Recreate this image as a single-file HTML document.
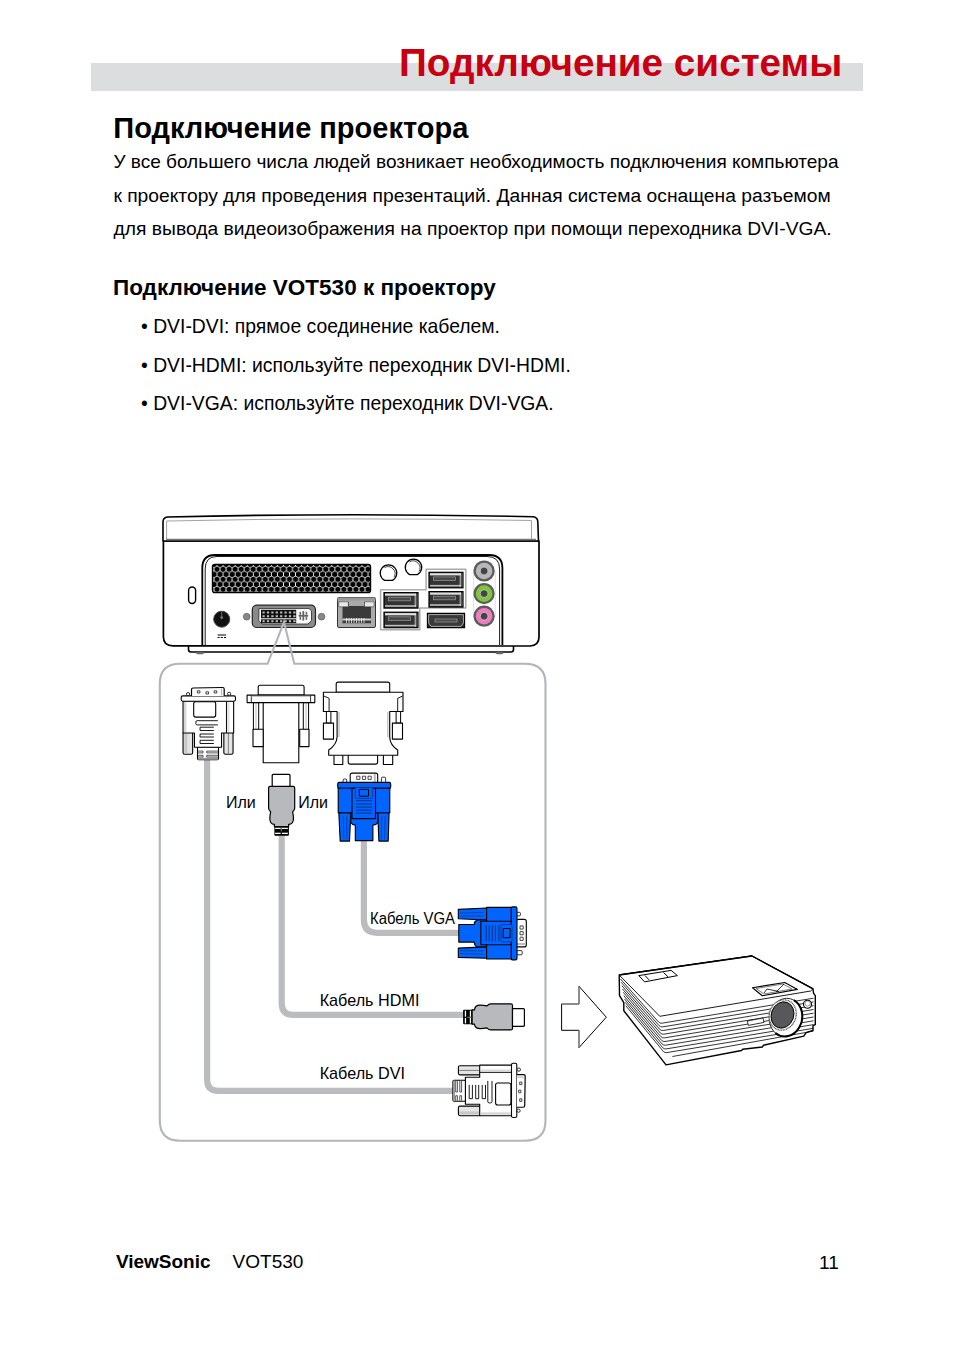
<!DOCTYPE html>
<html><head><meta charset="utf-8">
<style>
html,body{margin:0;padding:0;background:#fff;width:954px;height:1350px;overflow:hidden}
svg{display:block}
text{font-family:"Liberation Sans",sans-serif}
</style></head><body>
<svg width="954" height="1350" viewBox="0 0 954 1350">
<defs>
<pattern id="hex" patternUnits="userSpaceOnUse" x="214" y="566.8" width="6.04" height="10.06">
<rect width="6.04" height="10.06" fill="#fff"/>
<polygon points="3.02,-0.50 5.62,1.00 5.62,4.00 3.02,5.50 0.42,4.00 0.42,1.00" fill="#000"/>
<polygon points="0.00,4.53 2.60,6.03 2.60,9.03 0.00,10.53 -2.60,9.03 -2.60,6.03" fill="#000"/>
<polygon points="6.04,4.53 8.64,6.03 8.64,9.03 6.04,10.53 3.44,9.03 3.44,6.03" fill="#000"/>
<polygon points="0.00,-5.53 2.60,-4.03 2.60,-1.03 0.00,0.47 -2.60,-1.03 -2.60,-4.03" fill="#000"/>
<polygon points="6.04,-5.53 8.64,-4.03 8.64,-1.03 6.04,0.47 3.44,-1.03 3.44,-4.03" fill="#000"/>
<polygon points="3.02,9.56 5.62,11.06 5.62,14.06 3.02,15.56 0.42,14.06 0.42,11.06" fill="#000"/>
</pattern>
</defs>
<!-- header bar -->
<rect x="91" y="63" width="772" height="28" fill="#dcdddf"/>
<text x="399" y="75.6" font-size="38.7" font-weight="bold" fill="#c8000f">Подключение системы</text>
<text x="113.3" y="138" font-size="29" font-weight="bold" fill="#000">Подключение проектора</text>
<text x="113.4" y="167.6" font-size="19.05" fill="#000">У все большего числа людей возникает необходимость подключения компьютера</text>
<text x="113.4" y="201.6" font-size="19.25" fill="#000">к проектору для проведения презентаций. Данная система оснащена разъемом</text>
<text x="113.6" y="234.8" font-size="19.25" fill="#000">для вывода видеоизображения на проектор при помощи переходника DVI-VGA.</text>
<text x="113" y="295" font-size="22.5" font-weight="bold" fill="#000">Подключение VOT530 к проектору</text>
<text x="141" y="332.9" font-size="19.35" fill="#000">• DVI-DVI: прямое соединение кабелем.</text>
<text x="141" y="371.9" font-size="19.35" fill="#000">• DVI-HDMI: используйте переходник DVI-HDMI.</text>
<text x="141" y="410.2" font-size="19.35" fill="#000">• DVI-VGA: используйте переходник DVI-VGA.</text>

<!-- footer -->
<text x="115.9" y="1268" font-size="19" font-weight="bold" fill="#000">ViewSonic</text>
<text x="232.6" y="1268" font-size="19" fill="#000">VOT530</text>
<text x="819" y="1268.5" font-size="19" fill="#000">11</text>

<!-- DIAGRAM -->
<g id="diagram">
<!-- ===== MINI PC ===== -->
<g id="pc" stroke-linejoin="round">
<!-- base plate -->
<path d="M188.5,645 L188.5,649.5 Q188.5,652 191,652 L511,652 Q513.5,652 513.5,649.5 L513.5,645" fill="#fff" stroke="#000" stroke-width="1.6"/>
<ellipse cx="200" cy="653" rx="4" ry="1.3" fill="#666"/>
<ellipse cx="499.5" cy="653" rx="4" ry="1.3" fill="#666"/>
<!-- body -->
<path d="M163.4,541 L163.4,637 Q163.4,645.8 173,645.8 L530,646 Q539,645.5 539,637 L539,541 Z" fill="#fff" stroke="#000" stroke-width="1.7"/>
<!-- lid -->
<path d="M163,541 L163,522 Q163,517.5 167.6,517 Q350,512.5 533.5,516.8 Q537.8,517.5 537.8,522 L538.5,541 Z" fill="#fff" stroke="#000" stroke-width="1.6"/>
<path d="M166.6,539.5 L166.6,521 Q350,517 531.5,520.5 L531.5,539.5" fill="none" stroke="#999" stroke-width="0.9"/>
<line x1="166" y1="539.3" x2="536" y2="539.3" stroke="#777" stroke-width="1.2"/>
<!-- inner panel (double line) -->
<path d="M202.3,645 L202.3,568 Q202.3,555 215,555 L489,555 Q502.4,555 502.4,568 L502.4,645" fill="none" stroke="#000" stroke-width="1.8"/>
<path d="M205.2,645 L205.2,569 Q205.2,556.5 217,556.5 L487,556.5 Q499.6,556.5 499.6,569 L499.6,645" fill="none" stroke="#000" stroke-width="0.9"/>
<!-- oval button -->
<rect x="188.6" y="587" width="7" height="16.5" rx="3.5" fill="#fff" stroke="#000" stroke-width="1.4"/>
<!-- vent -->
<rect x="212.4" y="564.3" width="158.2" height="28.4" rx="2.5" fill="url(#hex)" stroke="#000" stroke-width="1.2"/>
<!-- power jack -->
<circle cx="221.7" cy="619.2" r="8" fill="#111" stroke="#444" stroke-width="1"/>
<circle cx="221.7" cy="617.5" r="1.3" fill="#888"/>
<line x1="221.7" y1="611.5" x2="221.7" y2="617" stroke="#666" stroke-width="1"/>
<line x1="217.6" y1="635" x2="226.1" y2="635" stroke="#000" stroke-width="1"/>
<line x1="217.6" y1="637.5" x2="226.1" y2="637.5" stroke="#000" stroke-width="1" stroke-dasharray="2 1.2"/>
<!-- DVI port -->
<circle cx="246.7" cy="616.7" r="3.4" fill="#888" stroke="#555" stroke-width="0.6"/>
<circle cx="321.5" cy="616.7" r="3.4" fill="#888" stroke="#555" stroke-width="0.6"/>
<rect x="252.3" y="605.2" width="63.2" height="22.3" rx="4.5" fill="#8a8a8a" stroke="#222" stroke-width="1.2"/>
<path d="M259,608.6 L309,608.6 L311.5,611 L311.5,620.5 L308,624 L262,624 L258.8,620.5 Z" fill="#fff" stroke="#222" stroke-width="0.8"/>
<rect x="261" y="609.8" width="35.2" height="13.4" fill="#111"/>
<rect x="261" y="618.3" width="35.2" height="1" fill="#fff"/>
<g fill="#bbb">
<rect x="262.5" y="611.5" width="2.2" height="2"/><rect x="266.9" y="611.5" width="2.2" height="2"/><rect x="271.3" y="611.5" width="2.2" height="2"/><rect x="275.7" y="611.5" width="2.2" height="2"/><rect x="280.1" y="611.5" width="2.2" height="2"/><rect x="284.5" y="611.5" width="2.2" height="2"/><rect x="288.9" y="611.5" width="2.2" height="2"/><rect x="293.3" y="611.5" width="2.2" height="2"/>
<rect x="262.5" y="615.2" width="2.2" height="2"/><rect x="266.9" y="615.2" width="2.2" height="2"/><rect x="271.3" y="615.2" width="2.2" height="2"/><rect x="275.7" y="615.2" width="2.2" height="2"/><rect x="280.1" y="615.2" width="2.2" height="2"/><rect x="284.5" y="615.2" width="2.2" height="2"/><rect x="288.9" y="615.2" width="2.2" height="2"/><rect x="293.3" y="615.2" width="2.2" height="2"/>
<rect x="262.5" y="620.2" width="2.2" height="2"/><rect x="266.9" y="620.2" width="2.2" height="2"/><rect x="271.3" y="620.2" width="2.2" height="2"/><rect x="275.7" y="620.2" width="2.2" height="2"/><rect x="280.1" y="620.2" width="2.2" height="2"/><rect x="284.5" y="620.2" width="2.2" height="2"/><rect x="288.9" y="620.2" width="2.2" height="2"/><rect x="293.3" y="620.2" width="2.2" height="2"/>
</g>
<g fill="#666">
<rect x="298.6" y="614.9" width="9.6" height="1.8"/>
<rect x="302.4" y="611" width="1.8" height="9.6"/>
<rect x="299.5" y="611.8" width="1.6" height="3"/><rect x="305.6" y="611.8" width="1.6" height="3"/>
<rect x="299.5" y="616.8" width="1.6" height="3"/><rect x="305.6" y="616.8" width="1.6" height="3"/>
</g>
<!-- RJ45 -->
<rect x="337.5" y="597.5" width="38" height="30" rx="1.5" fill="#aaa" stroke="#333" stroke-width="1"/>
<rect x="337.5" y="597.5" width="38" height="3" fill="#999"/>
<path d="M342.5,602 L349,602 L349,606 L364,606 L364,602 L371,602 L371,624.5 L342.5,624.5 Z" fill="#3a3a3a"/>
<rect x="338.8" y="601.8" width="9.5" height="5" fill="#e8e8e8" stroke="#333" stroke-width="0.5"/>
<rect x="364.5" y="601.8" width="9.5" height="5" fill="#e8e8e8" stroke="#333" stroke-width="0.5"/>
<rect x="342.5" y="618.5" width="28.5" height="2" fill="#ccc"/>
<g stroke="#fff" stroke-width="0.7">
<line x1="346.5" y1="618" x2="346.5" y2="623"/><line x1="349" y1="618" x2="349" y2="623"/><line x1="351.5" y1="618" x2="351.5" y2="623"/><line x1="354" y1="618" x2="354" y2="623"/><line x1="356.5" y1="618" x2="356.5" y2="623"/><line x1="359" y1="618" x2="359" y2="623"/><line x1="361.5" y1="618" x2="361.5" y2="623"/><line x1="364" y1="618" x2="364" y2="623"/>
</g>
<rect x="342.5" y="623.5" width="28.5" height="1" fill="#ddd"/>
<!-- round buttons -->
<path d="M384.55,580.40 A8.3,8.3 0 1 1 392.45,580.40 Z" fill="#fff" stroke="#000" stroke-width="1.2"/>
<path d="M384.50,567.64 A7.000000000000001,7.000000000000001 0 0 1 394.06,577.20" fill="none" stroke="#000" stroke-width="0.7"/>
<path d="M409.66,574.60 A8.25,8.25 0 1 1 417.34,574.60 Z" fill="#fff" stroke="#000" stroke-width="1.2"/>
<path d="M409.52,561.88 A6.95,6.95 0 0 1 419.02,571.38" fill="none" stroke="#000" stroke-width="0.7"/>
<!-- USB outline group -->
<path d="M380.6,589.8 L426.1,589.8 L426.1,569.2 L465.8,569.2 L465.8,608.1 L419.8,608.1 L419.8,629.8 L380.6,629.8 Z" fill="none" stroke="#aaa" stroke-width="1.5"/>
</g>
<defs>
<g id="usb">
<rect x="0" y="0" width="34" height="15.5" fill="#333" stroke="#000" stroke-width="1.2"/>
<rect x="1" y="0.9" width="31" height="2.2" fill="#e0e0e0"/>
<rect x="4.5" y="4.6" width="22" height="3.6" fill="#4a4a4a" stroke="#9a9a9a" stroke-width="0.7"/>
<rect x="1" y="12.6" width="31" height="1.6" fill="#bbb"/>
<line x1="31.2" y1="1" x2="31.2" y2="14.5" stroke="#ddd" stroke-width="0.9"/>
<line x1="33" y1="1" x2="33" y2="14.5" stroke="#999" stroke-width="0.6"/>
</g>
</defs>
<use href="#usb" x="429" y="572.3"/>
<use href="#usb" x="429" y="591.6"/>
<use href="#usb" x="384" y="592.6"/>
<use href="#usb" x="384" y="612.2"/>
<!-- displayport -->
<path d="M427.5,613.5 L464.5,613.5 L464.5,627.5 L427.5,627.5 Z" fill="#333" stroke="#000" stroke-width="1.3"/>
<path d="M428.6,614.6 L463.4,614.6 L463.4,623 L461,626.4 L431,626.4 L428.6,623 Z" fill="#3a3a3a" stroke="#ddd" stroke-width="0.7"/>
<rect x="435" y="619" width="22" height="3" fill="#4a4a4a" stroke="#aaa" stroke-width="0.6"/>
<!-- audio jacks -->
<rect x="473.4" y="571" width="21.8" height="45.2" fill="none" stroke="#ddd" stroke-width="0.9"/>
<circle cx="484.1" cy="571" r="10.6" fill="#5c5c5c"/><circle cx="484.1" cy="571" r="8.3" fill="#b8b8bc"/>
<circle cx="484.1" cy="571" r="3.9" fill="#444" stroke="#eee" stroke-width="0.6"/>
<circle cx="484.1" cy="593.6" r="10.6" fill="#5c5c5c"/><circle cx="484.1" cy="593.6" r="8.3" fill="#7ec63c"/>
<circle cx="484.1" cy="593.6" r="3.9" fill="#444" stroke="#eee" stroke-width="0.6"/>
<circle cx="484.1" cy="616.2" r="10.6" fill="#5c5c5c"/><circle cx="484.1" cy="616.2" r="8.3" fill="#f07cc0"/>
<circle cx="484.1" cy="616.2" r="3.9" fill="#444" stroke="#eee" stroke-width="0.6"/>

<!--PANEL-->
<!-- ===== PANEL ===== -->
<path d="M267.6,663.8 L180,663.8 Q159.8,663.8 159.8,683.8 L159.8,1120.5 Q159.8,1140.7 180,1140.7 L525,1140.7 Q545.5,1140.7 545.5,1120.5 L545.5,683.8 Q545.5,663.8 525,663.8 L294.3,663.8 L284,622 Z" fill="none" stroke="#b4b5b8" stroke-width="2.1" stroke-linejoin="miter"/>
<!-- cables -->
<g fill="none" stroke="#bbbcbf" stroke-width="6.2">
<path d="M207.1,755 L207.1,1079.8 Q207.1,1090.8 218.1,1090.8 L455,1090.8"/>
<path d="M281.7,830 L281.7,1003.2 Q281.7,1014.9 293.4,1014.9 L465,1014.9"/>
<path d="M363.9,835 L363.9,919.8 Q363.9,932.8 376.9,932.8 L462,932.8"/>
</g>
<!-- labels -->
<text x="226" y="808" font-size="16" fill="#000">Или</text>
<text x="298.2" y="808" font-size="16" fill="#000">Или</text>
<text x="370" y="924.2" font-size="16" fill="#000" textLength="85" lengthAdjust="spacingAndGlyphs">Кабель VGA</text>
<text x="319.7" y="1005.8" font-size="16.2" fill="#000">Кабель HDMI</text>
<text x="319.7" y="1078.7" font-size="16.2" fill="#000">Кабель DVI</text>

<!--CONN-->
<defs>
<!-- DVI plug, local origin = center of tip top, +y towards cable -->
<g id="dviplug" stroke-linejoin="round">
<rect x="-10.85" y="59.5" width="21" height="12.8" rx="1.2" fill="#fff" stroke="#000" stroke-width="1.1"/>
<rect x="-10.3" y="70.2" width="20" height="2" fill="#999"/>
<g fill="none" stroke="#222" stroke-width="0.75">
<path d="M-10.3,63.6 L-5.3,63.6 L-5.3,65.4 L-10.3,65.4"/>
<path d="M9.7,63.6 L-1.6,63.6 L-1.6,65.4 L9.7,65.4"/>
<path d="M-10.3,67.8 L-5.3,67.8 L-5.3,69.5 L-10.3,69.5"/>
<path d="M9.7,67.8 L-1.6,67.8 L-1.6,69.5 L9.7,69.5"/>
</g>
<rect x="-25.3" y="44.5" width="9.6" height="22.3" rx="1.6" fill="#e4e4e4" stroke="#000" stroke-width="1.1"/>
<rect x="-24" y="45.5" width="3" height="20.5" fill="#c8c8c8"/>
<rect x="15.5" y="44.5" width="9.2" height="22.3" rx="1.6" fill="#e4e4e4" stroke="#000" stroke-width="1.1"/>
<line x1="20" y1="45.5" x2="20" y2="66" stroke="#666" stroke-width="0.8"/>
<path d="M-25.3,13.5 L25.3,13.5 L25.3,45.5 L13.2,45.5 L13.2,59.8 L-13.9,59.8 L-13.9,45.5 L-25.3,45.5 Z" fill="#fff" stroke="#000" stroke-width="1.1"/>
<rect x="-24.3" y="14.5" width="2.3" height="30" fill="#d6d6d6"/>
<line x1="18.1" y1="14" x2="18.1" y2="45.5" stroke="#000" stroke-width="1"/>
<rect x="19" y="14.5" width="2" height="30" fill="#ddd"/>
<rect x="-27.15" y="8.4" width="54.3" height="5.3" rx="1.6" fill="#fff" stroke="#000" stroke-width="1.1"/>
<path d="M-16.85,8.4 L-16.85,2 Q-16.85,0.6 -15.3,0.5 L14.3,0 Q15.85,0 15.85,1.5 L15.85,8.4" fill="#fff" stroke="#000" stroke-width="1.2"/>
<line x1="13.3" y1="1" x2="13.3" y2="8" stroke="#999" stroke-width="0.8"/>
<rect x="-11" y="3.3" width="2.6" height="2.2" fill="none" stroke="#000" stroke-width="0.7"/>
<rect x="-2.4" y="4.3" width="2.6" height="2.2" fill="none" stroke="#000" stroke-width="0.7"/>
<rect x="5.8" y="3.3" width="2.6" height="2.2" fill="none" stroke="#000" stroke-width="0.7"/>
<circle cx="-20.3" cy="6.6" r="1.6" fill="#fff" stroke="#000" stroke-width="0.8"/>
<circle cx="20.8" cy="6.3" r="1.6" fill="#fff" stroke="#000" stroke-width="0.8"/>
<rect x="-14.65" y="14.3" width="22" height="15.3" rx="2" fill="#fff" stroke="#000" stroke-width="1.1"/>
<path d="M9.5,33.2 L-11.2,33.2 Q-12.5,33.2 -12.5,34.5 L-12.5,36 Q-12.5,37.4 -11.2,37.4 L9.5,37.4" fill="none" stroke="#000" stroke-width="0.9"/>
<path d="M5.5,39.7 L-8.3,39.7 L-8.3,43 L5.5,43" fill="none" stroke="#000" stroke-width="0.9"/>
<path d="M5.5,46.5 L-8.3,46.5 L-8.3,49.5 L5.5,49.5" fill="none" stroke="#000" stroke-width="0.9"/>
<path d="M5.5,52.8 L-8.3,52.8 L-8.3,56 L5.5,56" fill="none" stroke="#000" stroke-width="0.9"/>
</g>
<!-- VGA plug -->
<g id="vgaplug" stroke-linejoin="round">
<rect x="-14" y="0" width="27.5" height="10" rx="2" fill="#fff" stroke="#000" stroke-width="1.1"/>
<rect x="9.6" y="1" width="2" height="8.5" fill="#bbb"/>
<rect x="-7.5" y="3.1" width="3.2" height="3.2" fill="#fff" stroke="#000" stroke-width="0.7"/>
<rect x="-1.8" y="3.1" width="3.2" height="3.2" fill="#fff" stroke="#000" stroke-width="0.7"/>
<rect x="3.8" y="3.1" width="3.2" height="3.2" fill="#fff" stroke="#000" stroke-width="0.7"/>
<rect x="-21.1" y="5.9" width="3.6" height="4" rx="1" fill="#fff" stroke="#000" stroke-width="0.8"/>
<rect x="17.2" y="4.1" width="4.2" height="5.6" rx="1" fill="#fff" stroke="#000" stroke-width="0.8"/>
<path d="M-25.4,39.7 L-24,68 L-14.7,68 L-13.4,39.7 Z" fill="#0064ff" stroke="#000" stroke-width="1.1"/>
<path d="M13.5,39.7 L14.7,68 L24,68 L24.9,39.7 Z" fill="#0064ff" stroke="#000" stroke-width="1.1"/>
<g stroke="#003a99" stroke-width="0.7"><line x1="-21" y1="43" x2="-20.3" y2="66"/><line x1="-17.5" y1="43" x2="-17.3" y2="66"/><line x1="17.5" y1="43" x2="17.3" y2="66"/><line x1="20.8" y1="43" x2="20.3" y2="66"/></g>
<path d="M-13.4,39.7 L-13.4,49.5 Q-12,52 -8.9,52 L-8.9,67.5 L8.7,67.5 L8.7,52 Q12,52 13.5,49.5 L13.5,39.7 Z" fill="#0064ff" stroke="#000" stroke-width="1.1"/>
<rect x="-26.5" y="9.3" width="53" height="6" rx="1.5" fill="#0064ff" stroke="#000" stroke-width="1.1"/>
<rect x="-26" y="15.1" width="51.6" height="24.6" fill="#0064ff" stroke="#000" stroke-width="1.1"/>
<rect x="-12.2" y="15.1" width="23.5" height="30.4" fill="#0064ff" stroke="#000" stroke-width="1.1"/>
<line x1="-24.8" y1="15.6" x2="-13" y2="15.6" stroke="#003a99" stroke-width="0.7"/>
<rect x="-8.9" y="14.3" width="17.3" height="11" rx="1" fill="#0064ff" stroke="#003a99" stroke-width="0.9"/>
<rect x="-4.9" y="16.2" width="9.2" height="6.9" fill="#0064ff" stroke="#000" stroke-width="1"/>
<g stroke="#003a99" stroke-width="1.2"><line x1="-8.2" y1="27.5" x2="7.8" y2="27.5"/><line x1="-8.2" y1="30.9" x2="7.8" y2="30.9"/><line x1="-8.2" y1="34" x2="7.8" y2="34"/><line x1="-8.2" y1="37.1" x2="7.8" y2="37.1"/><line x1="-8.2" y1="40" x2="7.8" y2="40"/></g>
</g>
<!-- HDMI plug -->
<g id="hdmiplug" stroke-linejoin="round">
<rect x="-7.25" y="50" width="14.5" height="11.3" rx="0.8" fill="#000"/>
<rect x="-6.5" y="53.3" width="5.5" height="1.3" fill="#fff"/><rect x="0.2" y="53.3" width="6" height="1.3" fill="#fff"/>
<rect x="-6.5" y="58.3" width="5.5" height="1.3" fill="#fff"/><rect x="0.2" y="58.3" width="6" height="1.3" fill="#fff"/>
<line x1="-0.4" y1="52" x2="-0.4" y2="57" stroke="#bbb" stroke-width="0.8"/>
<path d="M-11.5,11.9 L11.5,11.9 Q13.05,11.9 13.05,13.5 L13.05,33.6 Q13.05,35.5 11,37.5 Q11.8,41 11.8,44 Q11.8,49.7 7,49.9 L7,52.3 L-7.25,52.3 L-7.25,49.9 Q-11.8,49.7 -11.8,44 Q-11.8,41 -11,37.5 Q-13.05,35.5 -13.05,33.6 L-13.05,13.5 Q-13.05,11.9 -11.5,11.9 Z" fill="#b8b9bc" stroke="#000" stroke-width="1.2"/>
<path d="M-9.45,11.9 L-9.45,1 Q-9.45,0 -8.4,0 L7.3,0 Q8.35,0 8.35,1 L8.35,11.9 Z" fill="#fff" stroke="#000" stroke-width="1.2"/>
</g>
<!-- HDMI adapter -->
<g id="hdmiadapter" fill="#fff" stroke="#000" stroke-width="1.1" stroke-linejoin="round">
<rect x="263.2" y="702" width="35.6" height="60.7"/>
<rect x="253.4" y="702.6" width="5.3" height="27" stroke-width="1"/>
<rect x="303.3" y="702.6" width="5.3" height="27" stroke-width="1"/>
<line x1="256" y1="703" x2="256" y2="729" stroke="#bbb" stroke-width="1"/>
<line x1="306" y1="703" x2="306" y2="729" stroke="#bbb" stroke-width="1"/>
<rect x="253" y="729.3" width="10.2" height="17.3"/>
<rect x="299.7" y="729.3" width="9.3" height="17.3"/>
<path d="M258.2,695.1 L258.2,687.3 Q258.2,685.3 260.2,685.3 L302.1,685.3 Q304.1,685.3 304.1,687.3 L304.1,695.1 Z"/>
<rect x="247.1" y="695.1" width="67.7" height="7.5"/>
<line x1="251.3" y1="695.5" x2="251.3" y2="702.2" stroke-width="0.8"/>
<line x1="310.6" y1="695.5" x2="310.6" y2="702.2" stroke-width="0.8"/>
<line x1="251.5" y1="696.3" x2="310" y2="696.3" stroke="#999" stroke-width="0.7"/>
</g>
<!-- VGA adapter -->
<g id="vgaadapter" fill="#fff" stroke="#000" stroke-width="1.1" stroke-linejoin="round">
<path d="M336.2,692.3 L336.2,684.1 Q336.2,682.1 338.2,682.1 L387.7,682.1 Q389.7,682.1 389.7,684.1 L389.7,692.3 Z"/>
<rect x="334" y="754.5" width="8.8" height="10"/>
<rect x="383.4" y="754.5" width="9.3" height="10"/>
<path d="M348.2,754.5 L348.2,762 Q348.2,764.1 350.2,764.1 L375.6,764.1 Q377.6,764.1 377.6,762 L377.6,754.5 Z"/>
<path d="M323.4,692.3 L403,692.3 L403,711.5 L389.7,711.5 L389.7,737 Q390,745 397.7,750 L397.7,755.2 L328.7,755.2 L328.7,750 Q336.5,745 337.1,737 L337.1,711.5 L323.4,711.5 Z"/>
<path d="M323.8,696 L329.1,698.3 L329.1,711.5" fill="none" stroke-width="0.9"/>
<path d="M402.6,696 L397.7,698.3 L397.7,711.5" fill="none" stroke-width="0.9"/>
<line x1="339" y1="712" x2="339" y2="737" stroke="#bbb" stroke-width="1.2"/>
<line x1="387.8" y1="712" x2="387.8" y2="737" stroke="#bbb" stroke-width="1.2"/>
<rect x="326.4" y="711.5" width="4.5" height="11.6" stroke-width="1"/>
<rect x="396.1" y="711.5" width="4.5" height="11.6" stroke-width="1"/>
<rect x="323.4" y="723.1" width="10.1" height="16"/>
<rect x="392.4" y="723.1" width="10.1" height="16"/>
</g>
</defs>
<use href="#hdmiadapter"/>
<use href="#vgaadapter"/>
<use href="#dviplug" transform="translate(208.35,687.5)"/>
<use href="#hdmiplug" transform="translate(281.65,774.4)"/>
<use href="#vgaplug" transform="translate(364.2,773.1)"/>
<use href="#vgaplug" transform="matrix(0,1,-1,0,526.3,933.4)"/>
<use href="#hdmiplug" transform="matrix(0,-1,-1,0,524.4,1016.9)"/>
<use href="#dviplug" transform="matrix(0,-1,-1,0,525.2,1090.4)"/>

<!--PROJ-->
<!-- ===== ARROW ===== -->
<path d="M561.6,1004 L579,1004 L579,986.3 L606.3,1017.2 L579,1047.6 L579,1030.3 L561.6,1030.3 Z" fill="#fff" stroke="#000" stroke-width="1" stroke-linejoin="miter"/>
<path d="M579,1004 L579,987 M561.6,1004 L578,1004 M579,1030.3 L579,1047" fill="none" stroke="#999" stroke-width="1.1"/>
<!-- ===== PROJECTOR ===== -->
<g id="proj" stroke-linejoin="round">
<path d="M619.2,975 L751.9,956 L813,988.8 L813.6,993.4 L815.3,995.7 L815.3,1024.6 L813,1025.7 L813,1030.3 L806.1,1032.6 L803.8,1036.1 L763.4,1045.3 L762.3,1047 L742.7,1049.3 L741.5,1050.5 L666,1064.9 L623.8,1010.7 L623.8,1002.6 L619.5,995.7 Z" fill="#fff" stroke="#000" stroke-width="1.4"/>
<path d="M620.5,979.0 L658.5,1022.0 Q660.0,1023.5 662.0,1023.2 L813.5,998.2 M621.2,982.3 L659.1,1025.7 Q660.6,1027.2 662.6,1026.9 L813.5,1001.9 M621.8,985.7 L659.7,1029.3 Q661.2,1030.8 663.2,1030.5 L813.5,1005.7 M622.5,989.0 L660.3,1033.0 Q661.8,1034.5 663.8,1034.2 L813.5,1009.5 M623.2,992.3 L660.9,1036.7 Q662.4,1038.2 664.4,1037.9 L813.5,1013.2 M623.8,995.7 L661.5,1040.3 Q663.0,1041.8 665.0,1041.5 L813.5,1017.0 M624.5,999.0 L662.1,1044.0 Q663.6,1045.5 665.6,1045.2 L813.5,1020.8 M625.2,1002.3 L662.7,1047.7 Q664.2,1049.2 666.2,1048.9 L813.5,1024.6 M625.8,1005.7 L663.3,1051.4 Q664.8,1052.9 666.8,1052.6 L813.5,1028.3 M672.4,1056.5 L813.5,1031.1" fill="none" stroke="#000" stroke-width="0.8"/>
<path d="M619.2,975 L751.9,956 L813,988.8 L810.7,991 L659.8,1016.3 Z" fill="#fff" stroke="#000" stroke-width="0.9"/>
<path d="M619.2,975 L751.9,956 L813,988.8" fill="none" stroke="#000" stroke-width="1.4"/>
<path d="M638.8,975.6 L671.1,970.4 L677.4,975.6 L644.6,981.9 Z" fill="#fff" stroke="#000" stroke-width="1"/>
<path d="M645,975.5 L649,979.8 M663.5,972.5 L668,976.8" fill="none" stroke="#000" stroke-width="1"/>
<path d="M752.5,987.7 L784.8,982.5 L797.4,989.4 L762.3,995.7 Z" fill="#fff" stroke="#000" stroke-width="1.1"/>
<path d="M756,988.5 L783,984 L792,989 L764,994 Z" fill="none" stroke="#444" stroke-width="0.7"/>
<path d="M764,993 L767,989 L779,991.5 M776,992 L784,984" fill="none" stroke="#000" stroke-width="0.8"/>
<path d="M747.3,1021 L763,1018 L764,1022.4 L748.3,1025.4 Z" fill="#fff" stroke="#000" stroke-width="0.8"/>
<ellipse cx="785.8" cy="1017.4" rx="16.4" ry="19.2" transform="rotate(12 785.8 1017.4)" fill="#fff" stroke="#222" stroke-width="0.9"/>
<path d="M793.81,1000.14 A16.4,19.2 12 1 1 775.40,1032.98" fill="none" stroke="#000" stroke-width="2"/>
<ellipse cx="782.7" cy="1015" rx="13.3" ry="15.4" transform="rotate(20 782.7 1015)" fill="#fff" stroke="#555" stroke-width="1.4" stroke-dasharray="1 0.6"/>
<ellipse cx="782.5" cy="1015" rx="11.2" ry="13.4" transform="rotate(20 782.5 1015)" fill="#58585a" stroke="#000" stroke-width="0.9"/>
<circle cx="807.5" cy="1004.2" r="4" fill="#fff" stroke="#000" stroke-width="1.1"/>
<circle cx="807.6" cy="1003.5" r="2.6" fill="none" stroke="#555" stroke-width="0.6"/>
</g>
<!--/PROJ-->
</g>
</svg>
</body></html>
